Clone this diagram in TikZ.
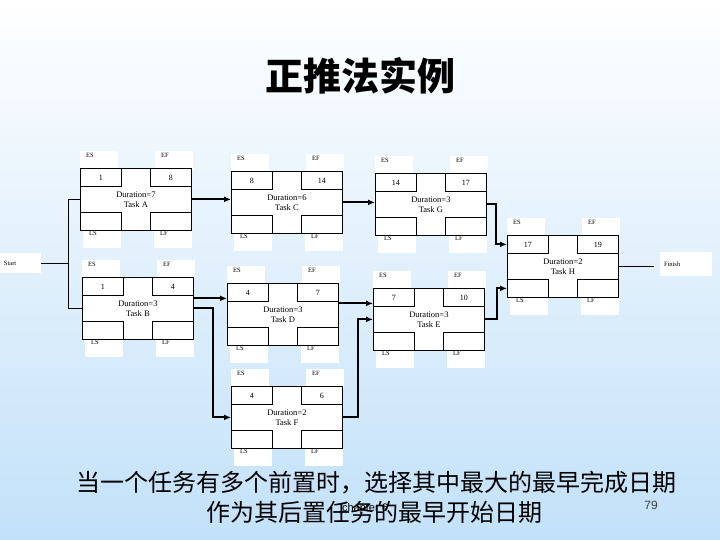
\documentclass[tikz,border=0pt]{standalone}
\usepackage{fontspec}
\setmainfont{Liberation Serif}
\setsansfont{Liberation Sans}
\newfontfamily\cjk{Noto Sans CJK SC}
\usetikzlibrary{positioning,arrows.meta}
\definecolor{bgblue}{RGB}{194,225,249}
\definecolor{bgmid}{RGB}{222,238,251}
\tikzset{
  flowarrow/.style={-{Latex[length=7pt,width=6pt]}, line width=2pt},
  startline/.style={line width=0.7pt},
  taskbox/.style={draw, fill=white, line width=0.8pt, minimum width=111pt, minimum height=62pt, inner sep=0pt, align=center, font=\fontsize{8.5}{10}\selectfont},
  cell/.style={draw, fill=white, line width=0.8pt, minimum width=41pt, minimum height=18pt, inner sep=0pt, font=\fontsize{8}{9}\selectfont},
  tag/.style={fill=white, anchor=north west, text width=26pt, align=left, inner xsep=6pt, inner ysep=1.5pt, text height=5pt, text depth=11pt, font=\fontsize{6.5}{7}\selectfont},
  endtag/.style={fill=white, align=left, inner xsep=4pt, inner ysep=2pt, font=\fontsize{6.5}{7}\selectfont},
  note/.style={font=\cjk\fontsize{24}{28}\selectfont}
}

\begin{document}
\begin{tikzpicture}[x=1pt, y=-1pt, >=Latex]
  \useasboundingbox (0,0) rectangle (720,540);
  \fill[top color=white, middle color=bgmid, bottom color=bgblue] (0,0) rectangle (720,540);

  \node[font=\cjk\bfseries\fontsize{38}{44}\selectfont] (title) at (360,76) {正推法实例};

  % tasks: name / x / y / ES / EF / duration
  \foreach \n/\x/\y/\es/\ef/\d in {A/80/168/1/8/7, B/82/277/1/4/3, C/231/171/8/14/6,
      G/375/173/14/17/3, D/227/283/4/7/3, E/373/288/7/10/3, H/507/235/17/19/2, F/231/386/4/6/2} {
    \node[tag] at (\x,\y-17) {ES};
    \node[tag] at (\x+75,\y-17) {EF};
    \node[tag] at (\x+3,\y+61) {LS};
    \node[tag] at (\x+74,\y+61) {LF};
    \node[taskbox, anchor=north west] (\n) at (\x,\y) {Duration=\d\\Task \n};
    \node[cell, anchor=north west] (\n-es) at (\n.north west) {\es};
    \node[cell, anchor=north east] (\n-ef) at (\n.north east) {\ef};
    \node[cell, anchor=south west] (\n-ls) at (\n.south west) {};
    \node[cell, anchor=south east] (\n-lf) at (\n.south east) {};
  }

  \node[endtag, minimum width=41pt, minimum height=20pt, text width=33pt] (start) at (20.5,263) {Start};
  \node[endtag, minimum width=52pt, minimum height=24pt, text width=44pt] (finish) at (686,264) {Finish};
  \coordinate (split) at (68,263);

  \draw[startline] (start.east) -- (split);
  \draw[startline] (split) |- (A.west);
  \draw[startline] (split) |- (B.west);
  \draw[startline, shorten >=6pt] (H.east) -- (H.east -| finish.west);

  \draw[flowarrow] (A.east) -- (A.east -| C.west);
  \draw[flowarrow] (C.east) -- (C.east -| G.west);
  \draw[flowarrow] (G.east) -- ++(9,0) |- (H-es.west);
  \draw[flowarrow] ([yshift=10pt]B.east) -- ([yshift=10pt]B.east -| D.west);
  \draw[flowarrow] (B.east) -- ++(19,0) |- (F.west);
  \draw[flowarrow] ([yshift=11pt]D.east) -- ([yshift=11pt]D.east -| E.west);
  \draw[flowarrow] (F.east) -- ++(15,0) |- (E.west);
  \draw[flowarrow] (E.east) -- ++(12,0) |- (H-ls.west);

  \node[note] (rule1) at (376,483) {当一个任务有多个前置时，选择其中最大的最早完成日期};
  \node[font=\sffamily\fontsize{11}{12}\selectfont] (chapter) at (365,509) {chapter 6};
  \node[note] (rule2) at (374,512) {作为其后置任务的最早开始日期};
  \node[font=\sffamily\fontsize{12}{14}\selectfont, text=black!75] (page) at (651,505) {79};
\end{tikzpicture}
\end{document}
